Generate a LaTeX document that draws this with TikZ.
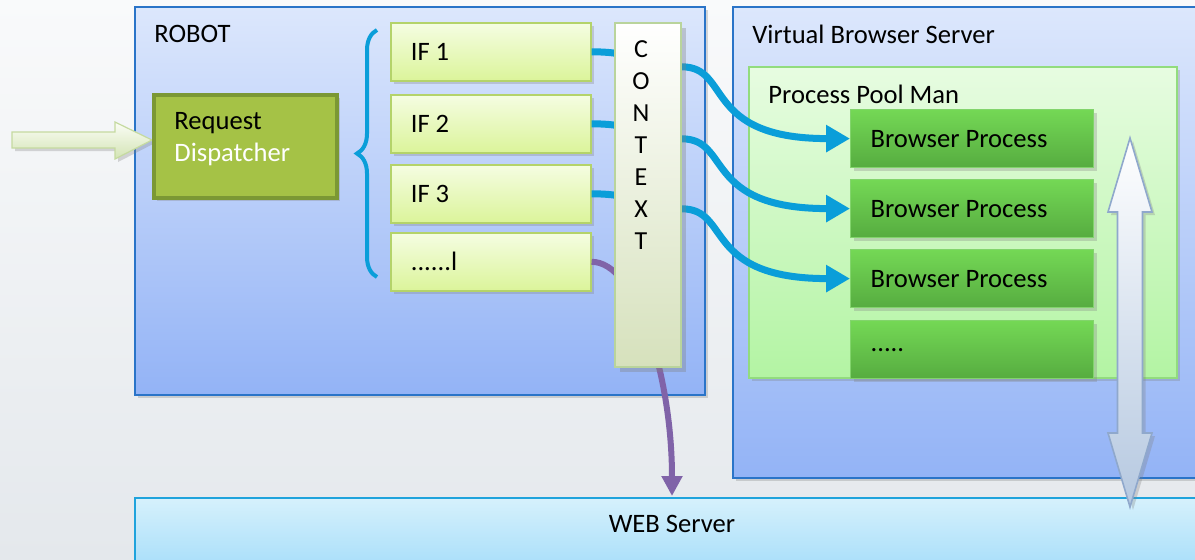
\documentclass[tikz,border=0pt]{standalone}
\usepackage{fontspec}
\setmainfont{Carlito}
\usetikzlibrary{arrows.meta,shadows,decorations.pathreplacing}

\definecolor{bgtop}{HTML}{F9FAFB}
\definecolor{bgbot}{HTML}{E4E8EC}
\definecolor{paneltop}{HTML}{DCE7FC}
\definecolor{panelbot}{HTML}{93B3F6}
\definecolor{panelline}{HTML}{2A74C8}
\definecolor{pooltop}{HTML}{E7FCE1}
\definecolor{poolbot}{HTML}{B3F4A3}
\definecolor{poolline}{HTML}{92DC7E}
\definecolor{proctop}{HTML}{74D855}
\definecolor{procbot}{HTML}{56AC40}
\definecolor{procline}{HTML}{82D46C}
\definecolor{iftop}{HTML}{F5FDE2}
\definecolor{ifbot}{HTML}{DBF49A}
\definecolor{ifline}{HTML}{B4D36A}
\definecolor{ctxbot}{HTML}{D6E1BC}
\definecolor{ctxline}{HTML}{B9D49C}
\definecolor{dispfill}{HTML}{A5C246}
\definecolor{displine}{HTML}{7B9834}
\definecolor{webtop}{HTML}{D6F1FC}
\definecolor{webbot}{HTML}{94D6F8}
\definecolor{webline}{HTML}{1FA3DC}
\definecolor{flowblue}{HTML}{0A9ED9}
\definecolor{flowpurple}{HTML}{8063A8}
\definecolor{syncbot}{HTML}{B5C8E0}
\definecolor{syncline}{HTML}{8FA8CC}
\definecolor{intop}{HTML}{FBFDF6}
\definecolor{inbot}{HTML}{D3E4B4}
\definecolor{inline}{HTML}{C5DAA0}

\tikzset{
    every node/.style={font=\fontsize{13.3}{15}\selectfont},
    boxshadow/.style={drop shadow={shadow xshift=1.5pt, shadow yshift=-1.5pt, opacity=0.3}},
    panel/.style={draw=panelline, line width=1pt, top color=paneltop, bottom color=panelbot,
        anchor=north west, inner sep=0pt, boxshadow},
    pool/.style={draw=poolline, line width=0.8pt, top color=pooltop, bottom color=poolbot,
        anchor=north west, inner sep=0pt, boxshadow},
    title/.style={anchor=north west, inner sep=0pt, xshift=10pt, yshift=-9.5pt},
    ifbox/.style={draw=ifline, line width=0.8pt, top color=iftop, bottom color=ifbot,
        anchor=north west, minimum width=100pt, minimum height=29pt, text width=80pt,
        inner xsep=10pt, align=flush left, boxshadow},
    procbox/.style={draw=procline, line width=0.6pt, top color=proctop, bottom color=procbot,
        anchor=north west, minimum width=121.5pt, minimum height=29pt, text width=101.5pt,
        inner xsep=10pt, align=flush left, boxshadow},
    flow/.style={draw=flowblue, line width=3.5pt, -{Triangle[length=12pt, width=13pt]}},
    webflow/.style={draw=flowpurple, line width=3pt, -{Triangle[length=10pt, width=10pt]}},
}

\begin{document}
\begin{tikzpicture}[x=0.5pt, y=-0.5pt]
    \clip (0,0) rectangle (1195,559);
    \fill[top color=bgtop, bottom color=bgbot] (0,0) rectangle (1195,559);

    % containers
    \node[panel, minimum width=285pt, minimum height=194pt] (robot) at (134,6) {};
    \node[title] (robottitle) at (robot.north west) {ROBOT};
    \node[panel, minimum width=240pt, minimum height=235.5pt] (vbs) at (732,6) {};
    \node[title] (vbstitle) at (vbs.north west) {Virtual Browser Server};
    \node[pool, minimum width=214pt, minimum height=155.5pt] (pool) at (748,66) {};
    \node[title] (pooltitle) at (pool.north west) {Process Pool Man};
    \node[panel, draw=webline, line width=0.8pt, top color=webtop, bottom color=webbot,
        minimum width=540pt, minimum height=50pt] (web) at (134,497) {};
    \node (webtitle) at (672,524) {WEB Server};

    % incoming request
    \path[draw=inline, line width=0.6pt, top color=intop, bottom color=inbot, boxshadow]
        (12,132) -- (115,132) -- (115,122) -- (152,140) -- (115,159) -- (115,148) -- (12,148) -- cycle;
    \node[draw=displine, line width=2pt, fill=dispfill, anchor=north west,
        minimum width=91.5pt, minimum height=51.5pt, boxshadow] (disp) at (152,93) {};
    \node[anchor=west, align=flush left, inner sep=0pt, font=\fontsize{13.3}{16}\selectfont]
        (disptext) at ([xshift=11pt, yshift=3.5pt]disp.west) {Request\\\textcolor{white}{Dispatcher}};

    \draw[draw=flowblue, line width=2pt, decorate, decoration={brace, amplitude=10pt}]
        (377,277) -- (377,30);

    % interfaces and browser processes
    \foreach \n/\y/\t in {1/22/{IF 1}, 2/94/{IF 2}, 3/164/{IF 3}, 4/232/{......l}}
        \node[ifbox] (if\n) at (390,\y) {\t};
    \foreach \n/\y/\t in {1/109/{Browser Process}, 2/179/{Browser Process}, 3/249/{Browser Process}, 4/320/{.....}}
        \node[procbox] (bp\n) at (850,\y) {\t};

    \foreach \n in {1,2,3}
        \draw[flow] (if\n.east) .. controls +(50,0) and +(-40,0) .. ++(90,15)
            .. controls +(50,0) and +(-148,0) .. (bp\n.west);

    \coordinate (webin) at (672,496);
    \draw[webflow] (if4.east) .. controls +(45,0) and +(0,-120) .. (webin);

    % shared context
    \node[draw=ctxline, line width=0.8pt, top color=white, bottom color=ctxbot,
        anchor=north west, minimum width=33pt, minimum height=172pt, inner sep=0pt,
        drop shadow={shadow xshift=2.5pt, shadow yshift=-2.5pt, opacity=0.35}] (ctx) at (614,22) {};
    \node[anchor=north, align=center, inner sep=0pt, font=\fontsize{13}{16}\selectfont]
        (ctxtext) at (641,40) {C\\O\\N\\T\\E\\X\\T};

    % pool <-> web server
    \path[draw=syncline, line width=0.8pt, top color=white, bottom color=syncbot, boxshadow]
        (1130,138) -- (1152,212) -- (1142.5,212) -- (1142.5,433) -- (1152,433) -- (1130,507)
        -- (1108,433) -- (1117.5,433) -- (1117.5,212) -- (1108,212) -- cycle;
\end{tikzpicture}
\end{document}
